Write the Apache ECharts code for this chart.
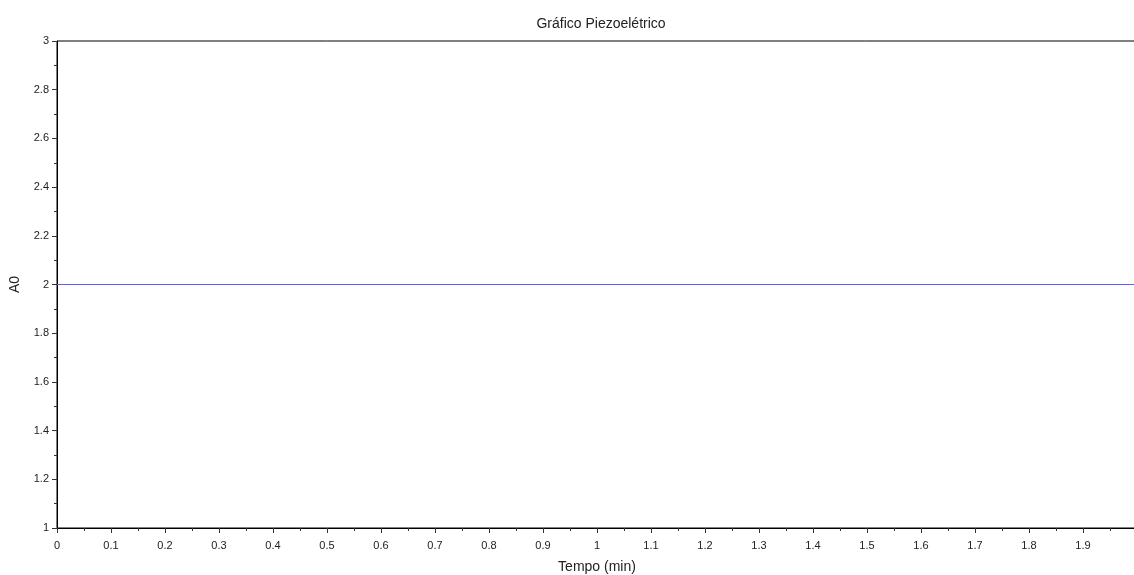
<!DOCTYPE html>
<html><head><meta charset="utf-8">
<script src="https://cdn.jsdelivr.net/npm/echarts@6/dist/echarts.min.js"></script>
<style>html,body{margin:0;padding:0;background:#fff}#c{width:1134px;height:575px}</style>
</head><body><div id="c"></div>
<script>
const tempo = [0, 0.5, 1.0, 1.5, 2.0];
const a0 = [2, 2, 2, 2, 2];
const chart = echarts.init(document.getElementById('c'), null, {renderer:'canvas'});
const F = 'Liberation Sans, Arial, sans-serif';
chart.setOption({
  animation:false,
  backgroundColor:'#fff',
  title:{text:'Gráfico Piezoelétrico', left:596, top:12, textAlign:'center',
    textStyle:{fontFamily:F, fontSize:14, fontWeight:'normal', color:'#222'}},
  grid:{left:57, top:41, width:1080, height:487, show:true, borderColor:'#000', borderWidth:1,
    containLabel:false, outerBoundsMode:'none'},
  xAxis:{type:'value', min:0, max:2, interval:0.1,
    name:'Tempo (min)', nameLocation:'middle', nameGap:32,
    nameTextStyle:{fontFamily:F, fontSize:14, color:'#222'},
    axisLine:{lineStyle:{color:'#000', width:1}},
    axisTick:{show:true, inside:false, length:5, lineStyle:{color:'#333'}},
    minorTick:{show:true, splitNumber:2, length:3, lineStyle:{color:'#333'}},
    splitLine:{show:false},
    axisLabel:{fontFamily:F, fontSize:11, color:'#222', margin:12,
      formatter:v=>String(Math.round(v*10)/10), showMaxLabel:true, hideOverlap:false}},
  yAxis:{type:'value', min:1, max:3, interval:0.2,
    name:'A0', nameLocation:'middle', nameGap:35, nameRotate:90,
    nameTextStyle:{fontFamily:F, fontSize:14, color:'#222'},
    axisLine:{show:true, lineStyle:{color:'#000', width:1}},
    axisTick:{show:true, inside:false, length:5, lineStyle:{color:'#333'}},
    minorTick:{show:true, splitNumber:2, length:3, lineStyle:{color:'#333'}},
    splitLine:{show:false},
    axisLabel:{fontFamily:F, fontSize:11, color:'#222', margin:8,
      formatter:v=>String(Math.round(v*10)/10)}},
  series:[{type:'line', data:tempo.map((t,i)=>[t,a0[i]]), showSymbol:false,
    lineStyle:{color:'#5c5cff', width:1}}]
});
</script></body></html>
